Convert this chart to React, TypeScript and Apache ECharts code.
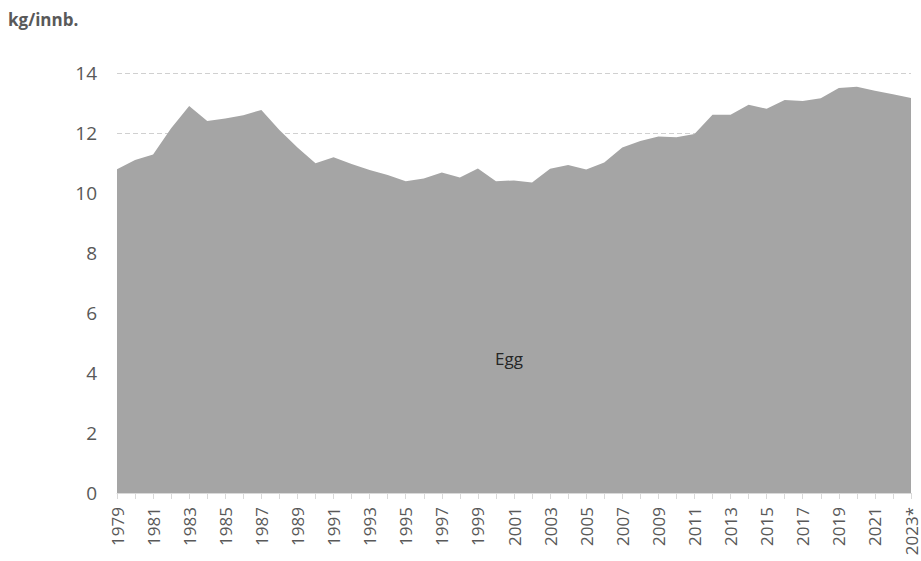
import React, { useEffect, useRef } from "react";
import * as echarts from "echarts";

const years: string[] = [
  "1979", "1980", "1981", "1982", "1983", "1984", "1985", "1986", "1987", "1988",
  "1989", "1990", "1991", "1992", "1993", "1994", "1995", "1996", "1997", "1998",
  "1999", "2000", "2001", "2002", "2003", "2004", "2005", "2006", "2007", "2008",
  "2009", "2010", "2011", "2012", "2013", "2014", "2015", "2016", "2017", "2018",
  "2019", "2020", "2021", "2022", "2023*",
];

const eggValues: number[] = [
  10.79, 11.1, 11.28, 12.16, 12.9, 12.4, 12.48, 12.59, 12.77, 12.1,
  11.52, 10.99, 11.19, 10.97, 10.77, 10.6, 10.39, 10.48, 10.68, 10.52,
  10.82, 10.39, 10.42, 10.35, 10.81, 10.93, 10.78, 11.02, 11.52, 11.73,
  11.88, 11.86, 11.97, 12.61, 12.61, 12.94, 12.81, 13.1, 13.07, 13.16,
  13.5, 13.54, 13.41, 13.29, 13.17,
];

const yTicks = { min: 0, max: 14, interval: 2 };
const unitLabel = "kg/innb.";
const seriesName = "Egg";

export default function App() {
  const ref = useRef<HTMLDivElement>(null);
  useEffect(() => {
    if (!ref.current) return;
    const chart = echarts.init(ref.current, null, { renderer: "svg" });
    const font = "'Open Sans', 'Noto Sans', sans-serif";
    chart.setOption({
      animation: false,
      textStyle: { fontFamily: font },
      grid: { left: 117, right: 10, top: 73, bottom: 68, containLabel: false },
      xAxis: {
        type: "category",
        data: years,
        boundaryGap: false,
        axisLine: { lineStyle: { color: "#d9d9d9", width: 1 } },
        axisTick: { show: true, interval: 0, length: 6, lineStyle: { color: "#d9d9d9" } },
        axisLabel: {
          interval: 1,
          rotate: 90,
          margin: 14,
          fontSize: 17,
          color: "#595959",
          fontFamily: font,
        },
        splitLine: { show: false },
      },
      yAxis: {
        type: "value",
        min: yTicks.min,
        max: yTicks.max,
        interval: yTicks.interval,
        axisLine: { show: false },
        axisTick: { show: false },
        axisLabel: { fontSize: 19, color: "#595959", margin: 20, fontFamily: font },
        splitLine: { lineStyle: { color: "#d0d0d0", type: [5, 3], width: 1 } },
      },
      series: [
        {
          name: seriesName,
          type: "line",
          data: eggValues,
          symbol: "none",
          lineStyle: { width: 0 },
          areaStyle: { color: "#a5a5a5", opacity: 1 },
        },
      ],
      graphic: [
        {
          type: "text",
          left: 8,
          top: 11,
          z: 100,
          style: {
            text: unitLabel,
            fontSize: 17,
            fontWeight: "bold",
            fill: "#595959",
            fontFamily: font,
          },
        },
        {
          type: "text",
          x: 509,
          y: 358,
          z: 100,
          style: {
            text: seriesName,
            fontSize: 17,
            fill: "#262626",
            align: "center",
            verticalAlign: "middle",
            fontFamily: font,
          },
        },
      ],
    });
    return () => chart.dispose();
  }, []);
  return <div ref={ref} style={{ width: 921, height: 561, position: "absolute", left: 0, top: 0 }} />;
}
